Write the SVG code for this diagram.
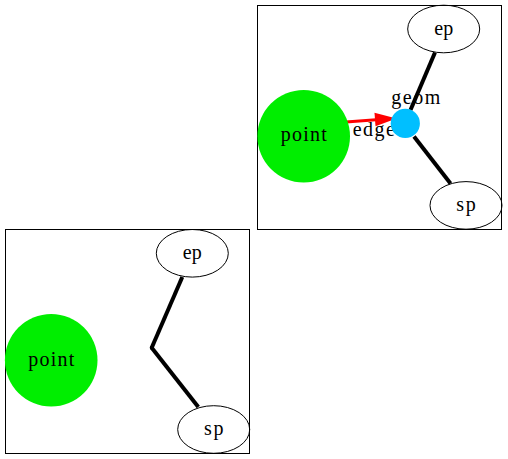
<svg xmlns="http://www.w3.org/2000/svg" width="508" height="459" viewBox="0 0 508 459">
<style>
  .cluster { fill: none; stroke: #000; stroke-width: 1; }
  .ell { fill: none; stroke: #000; stroke-width: 1; }
  .pt { fill: #00ee00; stroke: none; }
  .geom { fill: #00bfff; stroke: none; }
  .blk { fill: none; stroke: #000; stroke-width: 4; stroke-linecap: butt; }
  .red { fill: none; stroke: #ff0000; stroke-width: 3; }
  text { font-family: "Liberation Serif", "Times New Roman", serif; font-size: 20px; fill: #000; text-anchor: middle; }
</style>
<rect width="508" height="459" fill="#fff"/>
<g id="cluster_top">
  <rect class="cluster" x="257.5" y="5.5" width="244" height="224"/>
</g>
<g id="cluster_bottom">
  <rect class="cluster" x="5.5" y="229.5" width="244" height="224"/>
</g>
<g id="connectors">
  <line class="blk" x1="435" y1="52.5" x2="410.5" y2="110"/>
  <line class="blk" x1="414" y1="136.5" x2="450.5" y2="183.5"/>
  <path class="red" d="M346,122 L376,119.8"/>
  <polygon fill="#ff0000" points="374.5,112.8 396.5,118.4 375.5,126.3"/>
  <line class="blk" x1="182.3" y1="277" x2="151.7" y2="347.7"/>
  <line class="blk" x1="151.7" y1="347.7" x2="198.3" y2="407"/>
  <text x="415.8" y="104" textLength="49" lengthAdjust="spacing">geom</text>
  <text x="373.8" y="136" textLength="42" lengthAdjust="spacing">edge</text>
</g>
<g id="top_point">
  <circle class="pt" cx="303.7" cy="136.3" r="46.3"/>
  <text x="303.7" y="141" textLength="46" lengthAdjust="spacing">point</text>
</g>
<g id="top_geom">
  <circle class="geom" cx="405.3" cy="123.4" r="14.6"/>
</g>
<g id="top_ep">
  <ellipse class="ell" cx="443.7" cy="29" rx="36" ry="23.8"/>
  <text x="443.7" y="35" textLength="19" lengthAdjust="spacing">ep</text>
</g>
<g id="top_sp">
  <ellipse class="ell" cx="466" cy="205.4" rx="36" ry="23.8"/>
  <text x="466" y="211.3" textLength="19.5" lengthAdjust="spacing">sp</text>
</g>
<g id="bottom_point">
  <circle class="pt" cx="51.2" cy="360.3" r="46.3"/>
  <text x="51.2" y="365.5" textLength="46" lengthAdjust="spacing">point</text>
</g>
<g id="bottom_junction">
  <circle cx="151.7" cy="347.7" r="2" fill="#000"/>
</g>
<g id="bottom_ep">
  <ellipse class="ell" cx="192.3" cy="253.3" rx="36" ry="23.8"/>
  <text x="192.3" y="259.2" textLength="19" lengthAdjust="spacing">ep</text>
</g>
<g id="bottom_sp">
  <ellipse class="ell" cx="213.7" cy="429.5" rx="36" ry="23.8"/>
  <text x="213.7" y="435.4" textLength="19.5" lengthAdjust="spacing">sp</text>
</g>
</svg>
